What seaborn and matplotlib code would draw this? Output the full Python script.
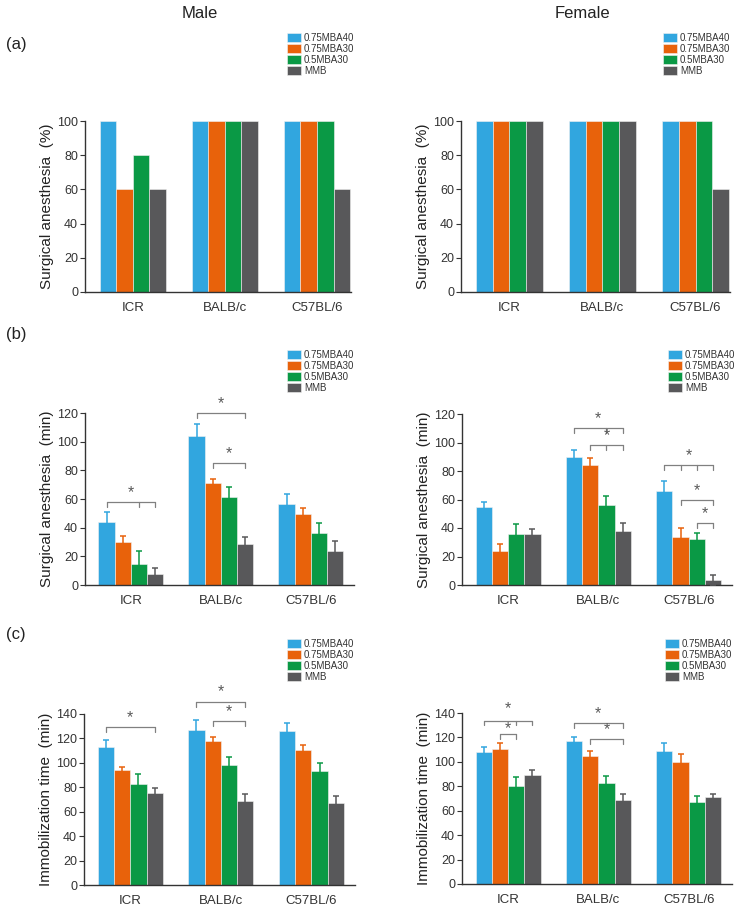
import pandas as pd
import seaborn as sns
import matplotlib.pyplot as plt

strains = ['ICR', 'BALB/c', 'C57BL/6']
groups = ['0.75MBA40', '0.75MBA30', '0.5MBA30', 'MMB']
colors = ['#31A6DF', '#E8620B', '#0A9945', '#58585A']

# rows = strain, columns = group
male_a = [[100, 60, 80, 60], [100, 100, 100, 100], [100, 100, 100, 60]]
female_a = [[100, 100, 100, 100], [100, 100, 100, 100], [100, 100, 100, 60]]

male_b = [[43.7, 29.9, 14.5, 7.5], [103.9, 71.3, 61.5, 28.3], [56.8, 49.4, 36.5, 23.4]]
male_b_err = [[7.1, 4.2, 8.9, 4.4], [8.6, 3.0, 6.6, 4.9], [6.8, 4.4, 6.8, 7.2]]
female_b = [[54.8, 24.0, 36.1, 36.1], [90.0, 84.4, 56.2, 38.2], [66.2, 33.6, 32.2, 3.7]]
female_b_err = [[3.2, 4.9, 6.8, 3.3], [4.4, 4.4, 6.0, 5.4], [6.5, 6.5, 4.4, 3.5]]

male_c = [[112.7, 94.2, 83.0, 75.3], [126.9, 117.6, 98.5, 69.1], [126.4, 110.5, 93.3, 67.1]]
male_c_err = [[6.0, 2.7, 8.2, 3.8], [8.2, 3.6, 6.0, 5.7], [6.0, 4.4, 6.3, 5.8]]
female_c = [[108.4, 110.5, 80.0, 89.5], [117.1, 104.5, 82.4, 68.5], [108.9, 99.6, 66.9, 71.5]]
female_c_err = [[3.5, 4.9, 7.3, 3.6], [3.5, 4.7, 5.8, 5.2], [6.3, 7.1, 4.9, 2.5]]

# significance brackets: (strain, from group, to group, level, groups with a drop tick, star lift in pt)
male_b_sig = [(0, 0, 3, 58, [0, 2, 3], 7), (1, 0, 3, 120, [0, 3], 7), (1, 1, 3, 85, [1, 3], 7)]
female_b_sig = [(1, 0, 3, 110, [0, 2, 3], 7), (1, 1, 3, 98, [1, 2, 3], 7),
                (2, 0, 3, 84, [0, 1, 2, 3], 7), (2, 1, 3, 59.5, [1, 3], 7), (2, 2, 3, 43.5, [2, 3], 7)]
male_c_sig = [(0, 0, 3, 129, [0, 3], 7), (1, 0, 3, 150, [0, 3], 7), (1, 1, 3, 134, [1, 3], 7)]
female_c_sig = [(0, 0, 3, 133.7, [0, 2, 3], 9), (0, 1, 2, 123, [1, 2], 3.5),
                (1, 0, 3, 131.6, [0, 3], 7), (1, 1, 3, 118.7, [1, 3], 7)]

sns.set_style('ticks')
plt.rcParams['font.family'] = ['Liberation Sans', 'DejaVu Sans']

W, H = 750, 910
fig = plt.figure(figsize=(7.5, 9.1), dpi=100)


def make_df(vals):
    rows = []
    for i, s in enumerate(strains):
        for j, g in enumerate(groups):
            rows.append({'strain': s, 'group': g, 'value': vals[i][j]})
    return pd.DataFrame(rows)


def panel(box, vals, err, sig, ymax, ylabel, xlim, leg_xy):
    left, right, top, bottom = box
    ax = fig.add_axes([left / W, 1 - bottom / H, (right - left) / W, (bottom - top) / H])
    sns.barplot(data=make_df(vals), x='strain', y='value', hue='group',
                order=strains, hue_order=groups, palette=colors,
                width=0.72, gap=0, errorbar=None, saturation=1,
                edgecolor='#f2f2f2', linewidth=0.4, ax=ax)
    bars = list(ax.containers)
    if err is not None:
        for j, cont in enumerate(bars):
            xs = [b.get_x() + b.get_width() / 2 for b in cont]
            ys = [b.get_height() for b in cont]
            es = [err[i][j] for i in range(len(strains))]
            ax.errorbar(xs, ys, yerr=es, fmt='none', ecolor=colors[j],
                        elinewidth=1.1, capsize=2.2, capthick=1.1, zorder=3)
    tick = 0.028 * ymax
    for s, g0, g1, y, drops, lift in sig:
        bx = lambda g: bars[g][s].get_x() + bars[g][s].get_width() / 2
        ax.plot([bx(g0), bx(g1)], [y, y], color='#808080', lw=0.9, clip_on=False)
        for g in drops:
            ax.plot([bx(g), bx(g)], [y, y - tick], color='#808080', lw=0.9, clip_on=False)
        ax.annotate('*', xy=((bx(g0) + bx(g1)) / 2, y), xytext=(0, lift),
                    textcoords='offset points', ha='center', va='center',
                    fontsize=11.5, color='#5a5a5a', annotation_clip=False)
    ax.set_xlim(*xlim)
    ax.set_ylim(0, ymax)
    ax.set_yticks(range(0, ymax + 1, 20))
    ax.set_xlabel('')
    ax.set_ylabel(ylabel, fontsize=11, color='#222222', labelpad=2)
    sns.despine(ax=ax)
    for sp in ['left', 'bottom']:
        ax.spines[sp].set_linewidth(1.0)
        ax.spines[sp].set_color('#333333')
    ax.tick_params(axis='y', direction='out', length=3.5, width=0.8,
                   labelsize=9, colors='#333333', pad=1.5)
    ax.tick_params(axis='x', length=0, labelsize=9.5, colors='#333333', pad=7)
    sns.move_legend(ax, 'upper left', bbox_to_anchor=(leg_xy[0] / W, 1 - leg_xy[1] / H),
                    bbox_transform=fig.transFigure, frameon=False, title=None,
                    fontsize=7, borderpad=0, handlelength=1.4, handleheight=1.05,
                    labelspacing=0.1, handletextpad=0.35, borderaxespad=0)
    for t in ax.get_legend().get_texts():
        t.set_color('#333333')
    return ax


xa = (-0.52, 2.37)
xb = (-0.51, 2.48)
panel((85, 351, 121, 292), male_a, None, [], 100, 'Surgical anesthesia  (%)', xa, (287, 33))
panel((461, 730, 121, 292), female_a, None, [], 100, 'Surgical anesthesia  (%)', xa, (663, 33))
panel((85, 354, 413, 585), male_b, male_b_err, male_b_sig, 120, 'Surgical anesthesia  (min)', xb, (287, 350))
panel((462, 732, 414, 585), female_b, female_b_err, female_b_sig, 120, 'Surgical anesthesia  (min)', xb, (668, 350))
panel((84, 355, 714, 885), male_c, male_c_err, male_c_sig, 140, 'Immobilization time  (min)', xb, (287, 639))
panel((462, 732, 713, 884), female_c, female_c_err, female_c_sig, 140, 'Immobilization time  (min)', xb, (665, 639))

fig.text(200 / W, 1 - 13 / H, 'Male', ha='center', va='center', fontsize=12, color='#222222')
fig.text(582 / W, 1 - 13 / H, 'Female', ha='center', va='center', fontsize=12, color='#222222')
for lab, y in [('(a)', 45), ('(b)', 335), ('(c)', 635)]:
    fig.text(6 / W, 1 - y / H, lab, ha='left', va='center', fontsize=12, color='#222222')

plt.savefig('out.png', dpi=100)
